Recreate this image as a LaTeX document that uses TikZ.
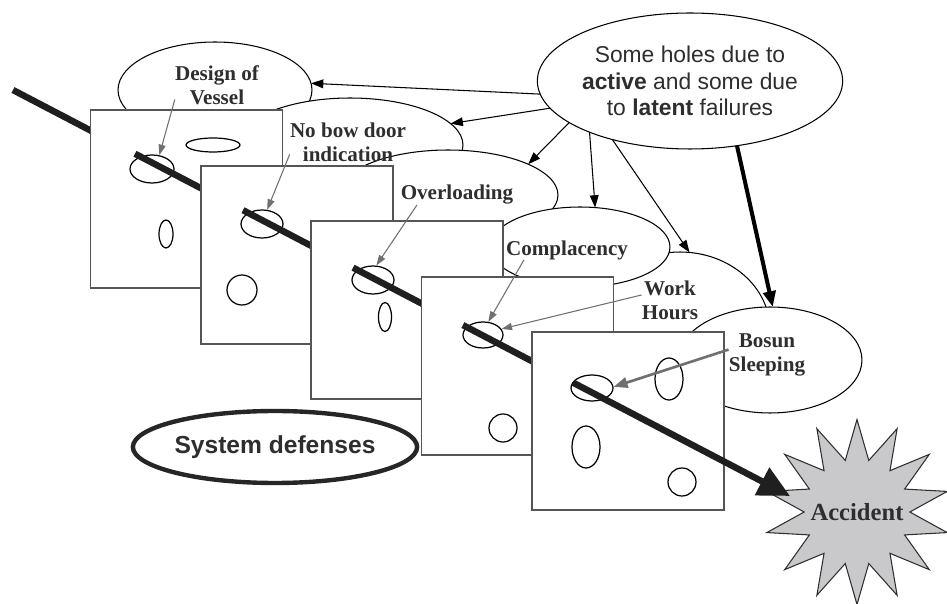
\documentclass[tikz,border=0pt]{standalone}
\usepackage{fontspec}
\setmainfont{Liberation Serif}
\newfontfamily\sansfam{Liberation Sans}
\usetikzlibrary{shapes.geometric,arrows.meta,calc}

\definecolor{inkgray}{HTML}{2E2E2E}
\definecolor{framegray}{HTML}{555555}
\definecolor{pointgray}{HTML}{707070}
\definecolor{burstgray}{HTML}{C9C9CB}

\tikzset{
  bubble/.style={shape=ellipse,draw=black,fill=white,line width=0.6pt,inner sep=0pt,outer sep=0pt},
  plate/.style={draw=framegray,fill=white,line width=0.9pt,inner sep=0pt,minimum width=3.84cm,minimum height=3.56cm},
  hole/.style={shape=ellipse,draw=black,line width=0.7pt,inner sep=0pt},
  tag/.style={font=\bfseries\fontsize{12}{13.8}\selectfont,text=inkgray,align=center,inner sep=0pt},
  beam/.style={line width=3.7pt,draw={black!88}},
  causearrow/.style={-{Triangle[length=7pt,width=5pt]},line width=0.6pt},
  pointer/.style={-{Triangle[length=6pt,width=4pt]},draw=pointgray,line width=0.6pt}
}

\begin{document}
\begin{tikzpicture}[x=0.02cm,y=-0.02cm]
	\useasboundingbox (0,0) rectangle (947,604);

	% the clouds behind the plates
	\node[bubble,minimum width=3.88cm,minimum height=1.92cm] (design) at (215,90) {};
	\node[bubble,minimum width=4.52cm,minimum height=1.88cm] (bowdoor) at (350,145) {};
	\node[bubble,minimum width=4.40cm,minimum height=1.80cm] (overload) at (448,195) {};
	\node[bubble,minimum width=3.60cm,minimum height=3.12cm] (workhrs) at (680,330) {};
	\node[bubble,minimum width=3.60cm,minimum height=1.60cm] (complac) at (580,247) {};
	\node[bubble,minimum width=3.68cm,minimum height=2.12cm] (bosun) at (770,360) {};
	\node[bubble,minimum width=5.28cm,minimum height=2.72cm,align=center,text=inkgray,
		font=\sansfam\fontsize{13}{15}\selectfont] (holes) at (690,81)
		{Some holes due to\\\textbf{active} and some due\\to \textbf{latent} failures};

	% trajectory
	\coordinate (b0) at (13,90);
	\coordinate (tip) at (790,496);
	\coordinate (b1) at ($(b0)!0.157!(tip)$);
	\coordinate (b2) at ($(b0)!0.296!(tip)$);
	\coordinate (b3) at ($(b0)!0.4376!(tip)$);
	\coordinate (b4) at ($(b0)!0.579!(tip)$);
	\coordinate (b5) at ($(b0)!0.7207!(tip)$);

	% plates
	\draw[beam] (b0) -- (b1);
	\node[plate] (sq1) at (186.5,199) {};
	\node[hole,minimum width=0.88cm,minimum height=0.56cm] (h1) at (152,169) {};
	\node[hole,minimum width=1.08cm,minimum height=0.28cm] (s1a) at (213,145) {};
	\node[hole,minimum width=0.28cm,minimum height=0.56cm] (s1b) at (166,234) {};

	\draw[beam] (b1) -- (b2);
	\node[plate] (sq2) at (297,255) {};
	\node[hole,minimum width=0.84cm,minimum height=0.56cm] (h2) at (262,224) {};
	\node[hole,minimum size=0.60cm] (s2a) at (242,290) {};

	\draw[beam] (b2) -- (b3);
	\node[plate] (sq3) at (407,310) {};
	\node[hole,minimum width=0.84cm,minimum height=0.56cm] (h3) at (373,280) {};
	\node[hole,minimum width=0.26cm,minimum height=0.58cm] (s3a) at (385,317) {};

	\draw[beam] (b3) -- (b4);
	\node[plate] (sq4) at (517.5,366) {};
	\node[hole,minimum width=0.80cm,minimum height=0.52cm] (h4) at (483,335) {};
	\node[hole,minimum size=0.56cm] (s4a) at (503,428) {};

	\draw[beam] (b4) -- (b5);
	\node[plate] (sq5) at (628,421) {};
	\node[hole,minimum width=0.84cm,minimum height=0.52cm] (h5) at (592,388) {};
	\node[hole,minimum width=0.56cm,minimum height=0.84cm] (s5a) at (669,379) {};
	\node[hole,minimum width=0.56cm,minimum height=0.84cm] (s5b) at (586,447) {};
	\node[hole,minimum size=0.56cm] (s5c) at (682,482) {};

	\node[star,star points=14,star point ratio=1.75,minimum size=3.7cm,inner sep=0pt,draw=inkgray,fill=burstgray,
		line width=0.6pt,label={[text=inkgray,font=\bfseries\fontsize{14}{16}\selectfont]center:Accident}] (accident) at (857,512) {};
	\draw[beam,-{Triangle[length=18pt,width=17pt]}] (b5) -- (tip);

	% labels
	\node[tag] (designtxt) at (217,85) {Design of\\Vessel};
	\node[tag] (bowtxt) at (348,142) {No bow door\\indication};
	\node[tag] (overtxt) at (457,195) {Overloading};
	\node[tag] (comptxt) at (567,250) {Complacency};
	\node[tag] (worktxt) at (670,300) {Work\\Hours};
	\node[tag] (bosuntxt) at (767,355) {Bosun\\Sleeping};

	\node[bubble,line width=2.5pt,draw={black!85},minimum width=5.28cm,minimum height=1.44cm,text=inkgray,
		font=\sansfam\bfseries\fontsize{14}{16}\selectfont] (defenses) at (275,447) {System defenses};

	\draw[causearrow] (holes.185) -- (design.4);
	\draw[causearrow] (holes.191) -- (bowdoor.12);
	\draw[causearrow] (holes.199) -- (overload.21);
	\draw[causearrow] (holes.207) -- (complac.69);
	\draw[causearrow] (holes.217) -- (workhrs.83);
	\draw[causearrow,line width=2.3pt,-{Triangle[length=9pt,width=7pt]}] (holes.306) -- (bosun.87);

	\draw[pointer] (designtxt.199) -- (h1.62);
	\draw[pointer] (bowtxt.192) -- (h2.70);
	\draw[pointer] (overtxt.194) -- (h3.77);
	\draw[pointer] (comptxt.193) -- (h4.68);
	\draw[pointer] (worktxt.170) -- (h4.18);
	\draw[pointer,line width=1.5pt,-{Triangle[length=8pt,width=6pt]}] (bosuntxt.172) -- (h5.3);
\end{tikzpicture}
\end{document}
